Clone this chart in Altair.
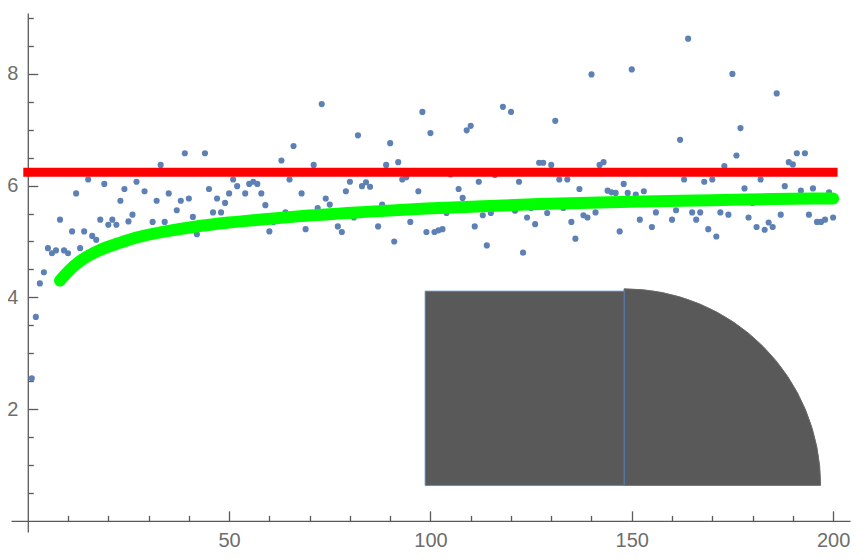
import math
import altair as alt
import pandas as pd

# ---------------- data ----------------
point_x = list(range(1, 201))
point_y = [
    2.55, 3.65, 4.25, 4.45, 4.88, 4.79, 4.84, 5.39, 4.84, 4.79,
    5.18, 5.86, 4.88, 5.18, 6.11, 5.10, 5.03, 5.39, 6.03, 5.30,
    5.39, 5.30, 5.73, 5.94, 5.36, 5.48, 6.07, 5.05, 5.90, 5.10,
    5.35, 5.73, 6.37, 5.35, 5.86, 5.20, 5.56, 5.73, 6.58, 5.77,
    5.44, 5.13, 5.25, 6.58, 5.94, 5.52, 5.77, 5.52, 5.69, 5.86,
    6.11, 5.99, 5.35, 5.86, 6.03, 6.07, 6.03, 5.86, 5.65, 5.18,
    5.35, 5.40, 6.45, 5.52, 6.11, 6.71, 5.42, 5.86, 5.22, 5.45,
    6.37, 5.60, 7.46, 5.77, 5.66, 5.47, 5.27, 5.17, 5.90, 6.07,
    5.43, 6.90, 5.99, 6.06, 5.98, 5.50, 5.27, 5.66, 6.37, 6.76,
    5.00, 6.42, 6.11, 6.15, 5.35, 5.55, 5.90, 7.32, 5.17, 6.94,
    5.17, 5.20, 5.22, 5.51, 6.20, 5.58, 5.94, 5.78, 6.99, 7.07,
    5.27, 6.07, 5.47, 4.93, 5.51, 6.19, 5.60, 7.41, 5.62, 7.32,
    5.55, 6.07, 4.80, 5.43, 5.60, 5.31, 6.41, 6.41, 5.51, 6.37,
    7.16, 6.11, 5.60, 6.11, 5.35, 5.05, 5.94, 5.47, 5.43, 7.99,
    5.52, 6.37, 6.42, 5.91, 5.88, 5.87, 5.18, 6.03, 5.87, 8.08,
    5.84, 5.39, 5.90, 5.68, 5.26, 5.52, 5.70, 5.68, 5.72, 5.39,
    5.56, 6.82, 6.11, 8.63, 5.52, 5.39, 5.52, 6.07, 5.22, 6.11,
    5.09, 5.52, 6.35, 5.48, 8.00, 6.54, 7.03, 5.95, 5.43, 5.69,
    5.26, 6.11, 5.21, 5.34, 5.26, 7.65, 5.48, 5.99, 6.42, 6.38,
    6.58, 5.91, 6.58, 5.48, 5.95, 5.35, 5.35, 5.39, 5.88, 5.43,
]

green_x = [8, 10, 13, 18, 23, 27, 35, 41, 50, 56, 67, 84, 99, 113, 127, 142, 156, 170, 185, 200]
green_y = [4.30, 4.46, 4.65, 4.85, 4.98, 5.07, 5.19, 5.26, 5.34, 5.38, 5.45, 5.53, 5.59, 5.63,
           5.67, 5.70, 5.72, 5.74, 5.76, 5.77]

red_x = [0]
red_x2 = [200]
red_y = [6.24]

rect_x = [98.7]
rect_x2 = [148.1]
rect_y = [0.635]
rect_y2 = [4.11]

arc_cx = [148.1]
arc_cy = [0.635]
arc_end_x = 197.5   # where the quarter disk meets the bottom edge
arc_top_y = 4.11    # where the quarter disk meets the vertical edge

x_major_ticks = [50, 100, 150, 200]
x_minor_ticks = [v for v in range(10, 201, 10) if v % 50 != 0]
y_major_ticks = [2, 4, 6, 8]
y_minor_ticks = [v / 2 for v in range(1, 19) if v % 4 != 0]

# ---------------- layout ----------------
XMIN, XMAX = -4.17, 204.2
YMIN, YMAX = -0.2, 9.09
W, H = 839, 519

AX = "#5a5a5a"
LBL = "#6e6e6e"
FONT = "Liberation Sans"

xs = alt.Scale(domain=[XMIN, XMAX], nice=False, zero=False)
ys = alt.Scale(domain=[YMIN, YMAX], nice=False, zero=False)

# pixel position of the data origin inside the plot area
x0_px = (0 - XMIN) / (XMAX - XMIN) * W
y0_px = (YMAX - 0) / (YMAX - YMIN) * H

common_tick = dict(labels=False, grid=False, title=None, tickColor=AX, tickWidth=1.3)

x_major_axis = alt.Axis(orient="top", offset=-y0_px, values=x_major_ticks, tickSize=10,
                        domain=True, domainColor=AX, domainWidth=1.3, **common_tick)
y_major_axis = alt.Axis(orient="right", offset=x0_px - W, values=y_major_ticks, tickSize=10,
                        domain=True, domainColor=AX, domainWidth=1.3, **common_tick)
x_minor_axis = alt.Axis(orient="top", offset=-y0_px, values=x_minor_ticks, tickSize=5.5,
                        domain=False, **common_tick)
y_minor_axis = alt.Axis(orient="right", offset=x0_px - W, values=y_minor_ticks, tickSize=5.5,
                        domain=False, **common_tick)
common_lbl = dict(ticks=False, domain=False, grid=False, title=None, labelFont=FONT,
                  labelFontSize=20, labelColor=LBL, labelPadding=10, labelFlush=False,
                  labelOverlap=False, labelBound=False)
x_label_axis = alt.Axis(orient="bottom", offset=y0_px - H, values=x_major_ticks, **common_lbl)
y_label_axis = alt.Axis(orient="left", offset=-x0_px, values=y_major_ticks, **common_lbl)

points_df = pd.DataFrame({"x": point_x, "y": point_y})
green_df = pd.DataFrame({"x": green_x, "y": green_y})
red_df = pd.DataFrame({"x": red_x, "x2": red_x2, "y": red_y})
rect_df = pd.DataFrame({"x": rect_x, "x2": rect_x2, "y": rect_y, "y2": rect_y2})
arc_df = pd.DataFrame({"x": arc_cx, "y": arc_cy})

# radius of the quarter disk in pixels, from the scales
rx_px = (arc_end_x - arc_cx[0]) / (XMAX - XMIN) * W
ry_px = (arc_top_y - arc_cy[0]) / (YMAX - YMIN) * H
r_px = (rx_px + ry_px) / 2

points = alt.Chart(points_df).mark_circle(size=38, color="#5E81B5", opacity=1).encode(
    x=alt.X("x:Q", scale=xs, axis=x_major_axis),
    y=alt.Y("y:Q", scale=ys, axis=y_major_axis),
)

red = alt.Chart(red_df).mark_rule(color="#FF0000", strokeWidth=9, strokeCap="square").encode(
    x=alt.X("x:Q", scale=xs, axis=x_minor_axis),
    x2="x2:Q",
    y=alt.Y("y:Q", scale=ys, axis=y_minor_axis),
)

green = alt.Chart(green_df).mark_line(color="#00FF00", strokeWidth=12, strokeCap="round",
                                      strokeJoin="round", interpolate="monotone").encode(
    x=alt.X("x:Q", scale=xs, axis=x_label_axis),
    y=alt.Y("y:Q", scale=ys, axis=y_label_axis),
)

arc = alt.Chart(arc_df).mark_arc(theta=0, theta2=math.pi / 2, radius=r_px, radius2=0,
                                 fill="#595959", stroke="#6a6a6a", strokeWidth=1).encode(
    x=alt.X("x:Q", scale=xs, axis=None),
    y=alt.Y("y:Q", scale=ys, axis=None),
)

rect = alt.Chart(rect_df).mark_rect(fill="#595959", stroke="#4A7FC8", strokeWidth=1).encode(
    x=alt.X("x:Q", scale=xs, axis=None),
    x2="x2:Q",
    y=alt.Y("y:Q", scale=ys, axis=None),
    y2="y2:Q",
)

chart = alt.layer(points, red, green, arc, rect).resolve_axis(
    x="independent", y="independent"
).properties(
    width=W, height=H,
    autosize=alt.AutoSizeParams(type="none"),
    padding={"left": 3, "top": 5, "right": 9, "bottom": 20},
    background="white",
).configure_view(stroke=None)

chart.save("out.html", embed_options={"renderer": "svg", "actions": False})
